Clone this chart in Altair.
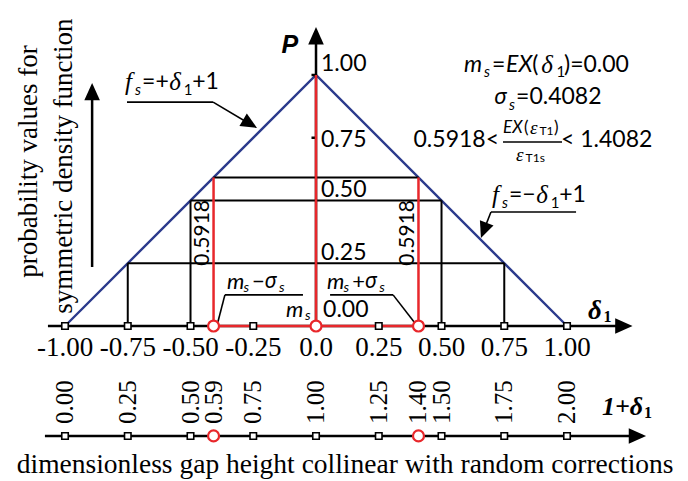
import altair as alt
import pandas as pd

# ---------------- data ----------------
delta_ticks = [-1.00, -0.75, -0.50, -0.25, 0.00, 0.25, 0.50, 0.75, 1.00]
delta_tick_labels = ["-1.00", "-0.75", "-0.50", "-0.25", "0.0", "0.25", "0.50", "0.75", "1.00"]
gap_values = [0.00, 0.25, 0.50, 0.5918, 0.75, 1.00, 1.25, 1.4082, 1.50, 1.75, 2.00]
gap_labels = ["0.00", "0.25", "0.50", "0.59", "0.75", "1.00", "1.25", "1.40", "1.50", "1.75", "2.00"]
density_delta = [-1.0, 0.0, 1.0]
density_p = [0.0, 1.0, 0.0]
m_s = 0.00
sigma_s = 0.4082
guide_deltas = [0.75, 0.50]
p_tick_values = [1.00, 0.75, 0.50, 0.25]
p_tick_labels = ["1.00", "0.75", "0.50", "0.25"]

# ---------------- styling ----------------
W, H = 688, 481
XDOM = [-1.259, 1.482]
YDOM = [-0.6175, 1.2988]
BLUE = "#2b3a8c"
RED = "#e8272b"
SANS = "Lato"
SERIF = "Liberation Serif"
GREEK = "Noto Sans"

xs = alt.Scale(domain=XDOM, nice=False, zero=False)
ys = alt.Scale(domain=YDOM, nice=False, zero=False)


def segs(rows):
    return pd.DataFrame(rows, columns=["x", "y", "x2", "y2"])


def rules(df, color, width):
    return alt.Chart(df).mark_rule(color=color, strokeWidth=width).encode(
        x=alt.X("x:Q", scale=xs, axis=None),
        y=alt.Y("y:Q", scale=ys, axis=None),
        x2="x2:Q",
        y2="y2:Q",
    )


gap_p = -0.438

# density triangle
tri = pd.DataFrame({"x": density_delta, "y": density_p, "o": range(3)})
tri_layer = alt.Chart(tri).mark_line(color=BLUE, strokeWidth=2.4).encode(
    x=alt.X("x:Q", scale=xs, axis=None), y=alt.Y("y:Q", scale=ys, axis=None), order="o:Q"
)

# black guides
g = []
for d in guide_deltas:
    f = 1 - abs(d)
    g += [(-d, 0, -d, f), (d, 0, d, f), (-d, f, d, f)]
g.append((-sigma_s, 1 - sigma_s, sigma_s, 1 - sigma_s))
guides = rules(segs(g), "black", 2)

# axes
ax = segs([
    (-1.068, 0, 1.24, 0),
    (-1.08, gap_p, 1.30, gap_p),
    (0, 0, 0, 1.175),
    (-0.892, 0.235, -0.892, 0.95),
    (-0.018, 0.75, 0, 0.75),
    (-0.018, 1.0, 0, 1.0),
])
axes = rules(ax, "black", 2.5)

# red lines
r = [
    (m_s - sigma_s, 0, m_s - sigma_s, 1 - sigma_s),
    (m_s + sigma_s, 0, m_s + sigma_s, 1 - sigma_s),
    (m_s, 0, m_s, 1.0),
    (m_s - sigma_s, 0, m_s + sigma_s, 0),
]
reds = rules(segs(r), RED, 2.5)

# leaders
ld = segs([
    (-0.753, 0.892, -0.410, 0.892), (-0.410, 0.892, -0.25, 0.797),
    (1.036, 0.454, 0.697, 0.454), (0.697, 0.454, 0.662, 0.365),
    (-0.052, 0.124, -0.363, 0.124), (-0.363, 0.124, -0.392, 0.012),
    (0.056, 0.124, 0.307, 0.124), (0.307, 0.124, 0.394, 0.012),
    (0.745, 0.733, 0.980, 0.733),
])
leaders = rules(ld, "black", 1.6)

# arrow heads
ARROW = "M0,0L0.9,2L-0.9,2Z"
ah = pd.DataFrame({
    "x": [1.261, 1.315, 0.0, -0.892, -0.235, 0.657],
    "y": [0.0, gap_p, 1.191, 0.968, 0.789, 0.351],
    "a": [90, 90, 0, 0, 120.5, 201],
    "s": [300, 300, 300, 300, 260, 260],
})
heads = alt.Chart(ah).mark_point(shape=ARROW, filled=True, color="black", opacity=1).encode(
    x=alt.X("x:Q", scale=xs, axis=None), y=alt.Y("y:Q", scale=ys, axis=None),
    angle=alt.Angle("a:Q", scale=None), size=alt.Size("s:Q", scale=None),
)

# markers
sq_delta = [d for d in delta_ticks if d != 0.0]
sq = pd.DataFrame({"x": sq_delta + [v - 1 for v in gap_values if v not in (0.5918, 1.4082)],
                   "y": [0.0] * len(sq_delta) + [gap_p] * 9})
squares = alt.Chart(sq).mark_point(shape="square", filled=True, fill="white", stroke="black",
                                   strokeWidth=1.6, size=42, opacity=1).encode(
    x=alt.X("x:Q", scale=xs, axis=None), y=alt.Y("y:Q", scale=ys, axis=None))
ci = pd.DataFrame({"x": [m_s - sigma_s, m_s, m_s + sigma_s, m_s - sigma_s, m_s + sigma_s],
                   "y": [0, 0, 0, gap_p, gap_p]})
circles = alt.Chart(ci).mark_point(shape="circle", filled=True, fill="white", stroke=RED,
                                   strokeWidth=2.2, size=120, opacity=1).encode(
    x=alt.X("x:Q", scale=xs, axis=None), y=alt.Y("y:Q", scale=ys, axis=None))

# ---------------- text ----------------
rows = []


def P(text, x, y, font=SANS, size=23, style="normal", weight="normal", align="left",
      baseline="middle", angle=0):
    rows.append(dict(text=text, x=x, y=y, font=font, size=size, style=style, weight=weight,
                     align=align, baseline=baseline, angle=angle))


# tick labels
for v, t in zip(delta_ticks, delta_tick_labels):
    P(t, v, -0.086, SERIF, 27, align="center")
for v, t in zip(gap_values, gap_labels):
    P(t, v - 1, -0.39, SERIF, 25, align="left", angle=270)
for v, t in zip(p_tick_values, p_tick_labels):
    P(t, 0.02, v + (-0.01 if v == 0.75 else 0.042), SANS, 23)

# m_s = EX(delta1) = 0.00
P("m", 0.590, 1.040, style="italic")
P("s", 0.669, 1.010, size=15, style="italic")
P("=", 0.701, 1.040)
P("EX", 0.757, 1.040, style="italic")
P("(", 0.861, 1.040)
P("δ", 0.897, 1.040, SERIF, 25, "italic")
P("1", 0.958, 1.010, size=15)
P(")=0.00", 0.988, 1.040)
# sigma
P("σ", 0.709, 0.912, GREEK, 22, "italic")
P("s", 0.769, 0.882, size=15, style="italic")
P("=0.4082", 0.797, 0.912)
# fraction
P("0.5918<", 0.729, 0.741, align="right")
P("EX", 0.745, 0.789, size=17, style="italic")
P("(", 0.829, 0.789, size=17)
P("ε", 0.853, 0.789, SERIF, 19, "italic")
P("T1", 0.890, 0.776, size=12)
P(")", 0.948, 0.789, size=17)
P("ε", 0.797, 0.681, SERIF, 19, "italic")
P("T1s", 0.835, 0.668, size=12)
P("< 1.4082", 0.976, 0.741)
# f_s = +/- delta + 1
for (x0, sign, yy) in [(-0.761, "=+", 0.972), (0.701, "=−", 0.522)]:
    P("f", x0, yy, SERIF, 25, "italic")
    P("s", x0 + 0.040, yy - 0.032, size=15, style="italic")
    P(sign, x0 + 0.068, yy)
    P("δ", x0 + 0.176, yy, SERIF, 25, "italic")
    P("1", x0 + 0.234, yy - 0.032, size=15)
    P("+1", x0 + 0.268, yy)
# m_s -/+ sigma_s
for (x0, sign) in [(-0.355, "−"), (0.044, "+")]:
    P("m", x0, 0.175, size=22, style="italic")
    P("s", x0 + 0.066, 0.150, size=14, style="italic")
    P(sign, x0 + 0.100, 0.175, size=22)
    P("σ", x0 + 0.150, 0.175, GREEK, 21, "italic")
    P("s", x0 + 0.208, 0.150, size=14, style="italic")
P("m", -0.120, 0.064, size=22, style="italic")
P("s", -0.044, 0.040, size=14, style="italic")
P("0.00", 0.028, 0.064, size=23)
# axis titles
P("P", -0.104, 1.12, "Liberation Sans", 25, "italic", "bold", align="center")
P("δ", 1.084, 0.060, SERIF, 27, "italic", "bold")
P("1", 1.145, 0.036, SERIF, 16, "normal", "bold")
P("1+δ", 1.139, -0.323, SERIF, 26, "italic", "bold")
P("1", 1.307, -0.347, SERIF, 16, "normal", "bold")
# rotated labels
P("0.5918", -0.450, 0.371, SANS, 21, align="center", angle=270)
P("0.5918", 0.367, 0.371, SANS, 21, align="center", angle=270)
P("probability values for", -1.145, 0.655, SERIF, 27, align="center", angle=270)
P("symmetric density function", -1.006, 0.637, SERIF, 27, align="center", angle=270)
P("dimensionless gap height collinear with random corrections", 0.116, -0.554, SERIF, 27.5,
  align="center")

tdf = pd.DataFrame(rows)
text_layers = []
for key, sub in tdf.groupby(["font", "size", "style", "weight", "align", "baseline", "angle"]):
    font, size, style, weight, align, baseline, angle = key
    text_layers.append(
        alt.Chart(sub[["text", "x", "y"]]).mark_text(
            font=font, fontSize=float(size), fontStyle=style, fontWeight=weight, align=align,
            baseline=baseline, angle=float(angle), color="black",
        ).encode(x=alt.X("x:Q", scale=xs, axis=None), y=alt.Y("y:Q", scale=ys, axis=None),
                 text="text:N")
    )

chart = alt.layer(tri_layer, guides, axes, reds, leaders, heads, squares, circles,
                  *text_layers).properties(
    width=W, height=H, autosize=alt.AutoSizeParams(type="none"), padding=0,
    background="white",
).configure_view(stroke=None)

chart.save("out.html", embed_options={"renderer": "svg", "actions": False})
